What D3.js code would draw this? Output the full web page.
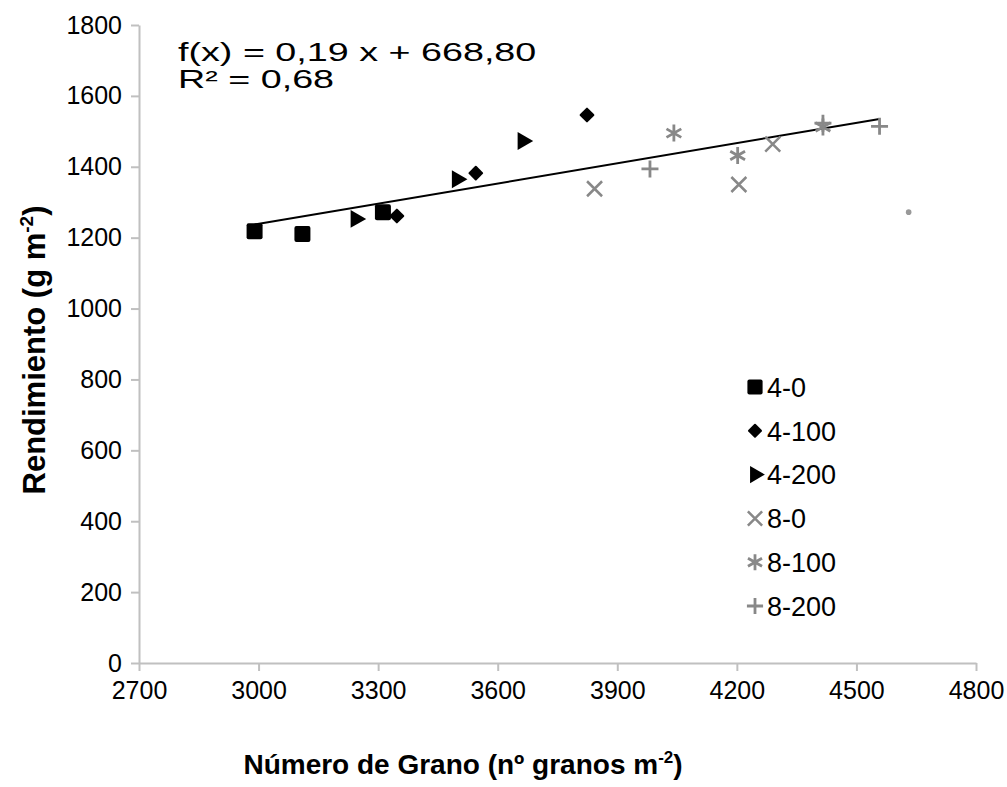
<!DOCTYPE html>
<html>
<head>
<meta charset="utf-8">
<script src="https://cdn.jsdelivr.net/npm/d3@7"></script>
<style>
body { margin: 0; background: #fff; }
text { font-family: Arial, "Liberation Sans", sans-serif; }
</style>
</head>
<body>
<script>
// data
var s40   = [[2990, 1218], [3110, 1210], [3312, 1272]];
var s4100 = [[3824, 1546], [3545, 1382], [3347, 1261]];
var s4200 = [[3663, 1473], [3498, 1365], [3244, 1253]];
var s80   = [[3843, 1338], [4205, 1350], [4290, 1464]];
var s8100 = [[4042, 1495], [4202, 1432], [4416, 1512]];
var s8200 = [[3982, 1394], [4416, 1523], [4558, 1514]];
var strayDot = [[4631, 1272]];
var xTicks = [2700, 3000, 3300, 3600, 3900, 4200, 4500, 4800];
var yTicks = [0, 200, 400, 600, 800, 1000, 1200, 1400, 1600, 1800];
var slope = 0.19, intercept = 668.80, r2 = "0,68";
var legendNames = ["4-0", "4-100", "4-200", "8-0", "8-100", "8-200"];

var W = 1007, H = 787;
var svg = d3.select("body").append("svg").attr("width", W).attr("height", H);

var x = d3.scaleLinear().domain([2700, 4800]).range([139, 976]);
var y = d3.scaleLinear().domain([0, 1800]).range([663, 25]);
var axisCol = "#c0c0c0", grey = "#888888";

// axes
var gx = svg.append("g").attr("transform", "translate(0," + y(0) + ")")
	.call(d3.axisBottom(x).tickValues(xTicks).tickFormat(d3.format("d")).tickSize(8).tickSizeOuter(0).tickPadding(10));
var gy = svg.append("g").attr("transform", "translate(" + x(2700) + ",0)")
	.call(d3.axisLeft(y).tickValues(yTicks).tickFormat(d3.format("d")).tickSize(8).tickSizeOuter(0).tickPadding(9));
[gx, gy].forEach(function (g) {
	g.selectAll("path, line").attr("stroke", axisCol).attr("stroke-width", 2);
	g.selectAll("text").attr("font-size", 25).attr("fill", "#000")
		.attr("font-family", "Arial, 'Liberation Sans', sans-serif");
});
gx.selectAll("text").attr("dy", "0.71em");

// axis titles
svg.append("text").attr("transform", "translate(45,350) rotate(-90)")
	.attr("text-anchor", "middle").attr("font-size", 31).attr("font-weight", "bold")
	.html('Rendimiento (g m<tspan dy="-12" font-size="19">-2</tspan><tspan dy="12">)</tspan>');
svg.append("text").attr("x", 463).attr("y", 774)
	.attr("text-anchor", "middle").attr("font-size", 28).attr("font-weight", "bold")
	.html('Número de Grano (nº granos m<tspan dy="-11" font-size="17">-2</tspan><tspan dy="11">)</tspan>');

// trend line
var allX = [].concat(s40, s4100, s4200, s80, s8100, s8200).map(function (d) { return d[0]; });
var xr = d3.extent(allX);
svg.append("line")
	.attr("x1", x(xr[0])).attr("y1", y(slope * xr[0] + intercept))
	.attr("x2", x(xr[1])).attr("y2", y(slope * xr[1] + intercept))
	.attr("stroke", "#000").attr("stroke-width", 2);

// equation label (stretched wide like the original)
svg.append("text").attr("transform", "translate(178,61) scale(1.45,1)").attr("font-size", 26)
	.text("f(x) = " + d3.format(".2f")(slope).replace(".", ",") + " x + " + d3.format(".2f")(intercept).replace(".", ","));
svg.append("text").attr("transform", "translate(178,88) scale(1.45,1)").attr("font-size", 26)
	.text("R² = " + r2);

// marker drawing
function crossPath(s) { return "M" + (-s) + ",0H" + s + "M0," + (-s) + "V" + s; }
function timesPath(s) { return "M" + (-s) + "," + (-s) + "L" + s + "," + s + "M" + (-s) + "," + s + "L" + s + "," + (-s); }
function starPath(s) {
	var a = s * 0.87, b = s * 0.5;
	return "M0," + (-s) + "V" + s + "M" + (-a) + "," + (-b) + "L" + a + "," + b + "M" + (-a) + "," + b + "L" + a + "," + (-b);
}
var markers = [
	function (g, k) { g.append("rect").attr("x", -8 * k).attr("y", -8 * k).attr("width", 16 * k).attr("height", 16 * k).attr("rx", 2).attr("fill", "#000"); },
	function (g, k) { g.append("rect").attr("x", -5.5 * k).attr("y", -5.5 * k).attr("width", 11 * k).attr("height", 11 * k).attr("rx", 1).attr("transform", "rotate(45)").attr("fill", "#000"); },
	function (g, k) { g.append("path").attr("d", d3.symbol().type(d3.symbolTriangle).size(140 * k * k)).attr("transform", "rotate(90)").attr("fill", "#000"); },
	function (g, k) { g.append("path").attr("d", timesPath(7.5 * k)).attr("stroke", grey).attr("stroke-width", 2.5).attr("fill", "none"); },
	function (g, k) { g.append("path").attr("d", starPath(8.5 * k)).attr("stroke", grey).attr("stroke-width", 2.8).attr("fill", "none"); },
	function (g, k) { g.append("path").attr("d", crossPath(8.5 * k)).attr("stroke", grey).attr("stroke-width", 2.8).attr("fill", "none"); }
];
var seriesList = [s40, s4100, s4200, s80, s8100, s8200];

seriesList.forEach(function (data, i) {
	svg.append("g").selectAll("g").data(data).enter().append("g")
		.attr("transform", function (d) { return "translate(" + x(d[0]) + "," + y(d[1]) + ")"; })
		.each(function () { markers[i](d3.select(this), 1); });
});

svg.selectAll(".stray").data(strayDot).enter().append("circle")
	.attr("cx", function (d) { return x(d[0]); }).attr("cy", function (d) { return y(d[1]); })
	.attr("r", 2.8).attr("fill", "#999");

// legend
var leg = svg.append("g").attr("transform", "translate(755,387)");
legendNames.forEach(function (name, i) {
	var row = leg.append("g").attr("transform", "translate(0," + i * 43.8 + ")");
	markers[i](row, 0.95);
	row.append("text").attr("x", 12).attr("y", 0).attr("dy", "0.36em").attr("font-size", 27).text(name);
});
</script>
</body>
</html>
